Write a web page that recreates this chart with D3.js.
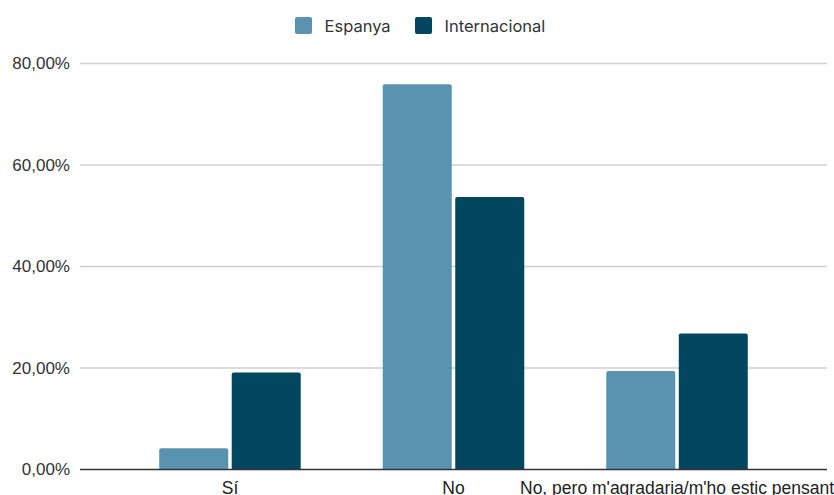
<!DOCTYPE html>
<html><head><meta charset="utf-8">
<script src="https://cdn.jsdelivr.net/npm/d3@7"></script>
<style>html,body{margin:0;padding:0;background:#fff;overflow:hidden}</style>
</head><body>
<svg id="c" width="834" height="495"></svg>
<script>
const categories = ["Sí", "No", "No, pero m'agradaria/m'ho estic pensant"];
const seriesNames = ["Espanya", "Internacional"];
const espanya = [0.042, 0.759, 0.194];
const internacional = [0.191, 0.537, 0.268];
const yTicks = [0, 0.2, 0.4, 0.6, 0.8];
const colors = ["#5a93b0", "#02465f"];

const svg = d3.select("#c");
const plotLeft = 80, plotRight = 827, plotTop = 63.5, plotBottom = 469.5;

const x = d3.scaleBand().domain(categories).range([plotLeft, plotRight]).paddingInner(0).paddingOuter(0.171);
const xs = d3.scaleBand().domain(seriesNames).range([x.bandwidth()/2 - 70.75, x.bandwidth()/2 + 70.75]).paddingInner(0.048);
const y = d3.scaleLinear().domain([0, 0.8]).range([plotBottom, plotTop]);

const fmt = v => (v*100).toFixed(2).replace(".", ",") + "%";

// gridlines
svg.append("g").selectAll("line").data(yTicks.filter(t => t > 0)).join("line")
  .attr("x1", plotLeft).attr("x2", plotRight)
  .attr("y1", d => y(d)).attr("y2", d => y(d))
  .attr("stroke", "#d0d0d0").attr("stroke-width", 1.3);

// y axis labels
const yAxis = d3.axisLeft(y).tickValues(yTicks).tickFormat(fmt).tickSize(0).tickPadding(10);
const ya = svg.append("g").attr("transform", `translate(${plotLeft},0)`).call(yAxis);
ya.select(".domain").remove();
ya.selectAll("text").attr("font-family", "Liberation Sans, Arial, sans-serif").attr("font-size", 17).attr("fill", "#333");

// bars
const data = categories.map((c, i) => ({c, vals: [espanya[i], internacional[i]]}));
const groups = svg.append("g").selectAll("g").data(data).join("g")
  .attr("transform", d => `translate(${x(d.c)},0)`);
groups.selectAll("path").data(d => d.vals.map((v, j) => ({s: seriesNames[j], v, j}))).join("path")
  .attr("fill", d => colors[d.j])
  .attr("d", d => {
    const x0 = xs(d.s), w = xs.bandwidth(), y0 = y(d.v), y1 = y(0), r = 2;
    return `M${x0},${y1}V${y0+r}Q${x0},${y0} ${x0+r},${y0}H${x0+w-r}Q${x0+w},${y0} ${x0+w},${y0+r}V${y1}Z`;
  });

// baseline
svg.append("line").attr("x1", plotLeft).attr("x2", plotRight).attr("y1", y(0)).attr("y2", y(0))
  .attr("stroke", "#333").attr("stroke-width", 1.3);

// x axis labels
const xAxis = d3.axisBottom(x).tickSize(0).tickPadding(12);
const xa = svg.append("g").attr("transform", `translate(0,${plotBottom})`).call(xAxis);
xa.select(".domain").remove();
xa.selectAll("text").attr("font-family", "Liberation Sans, Arial, sans-serif").attr("font-size", 17.5).attr("fill", "#222");

// legend
const legend = svg.append("g").attr("transform", "translate(295,17)");
const lx = [0, 120];
seriesNames.forEach((s, i) => {
  const g = legend.append("g").attr("transform", `translate(${lx[i]},0)`);
  g.append("rect").attr("width", 17).attr("height", 17).attr("rx", 2).attr("fill", colors[i]);
  g.append("text").attr("x", 29.5).attr("y", 14.5).text(s)
    .attr("font-family", "Inter, Roboto, sans-serif").attr("font-size", 16.5).attr("fill", "#333");
});
</script>
</body></html>
